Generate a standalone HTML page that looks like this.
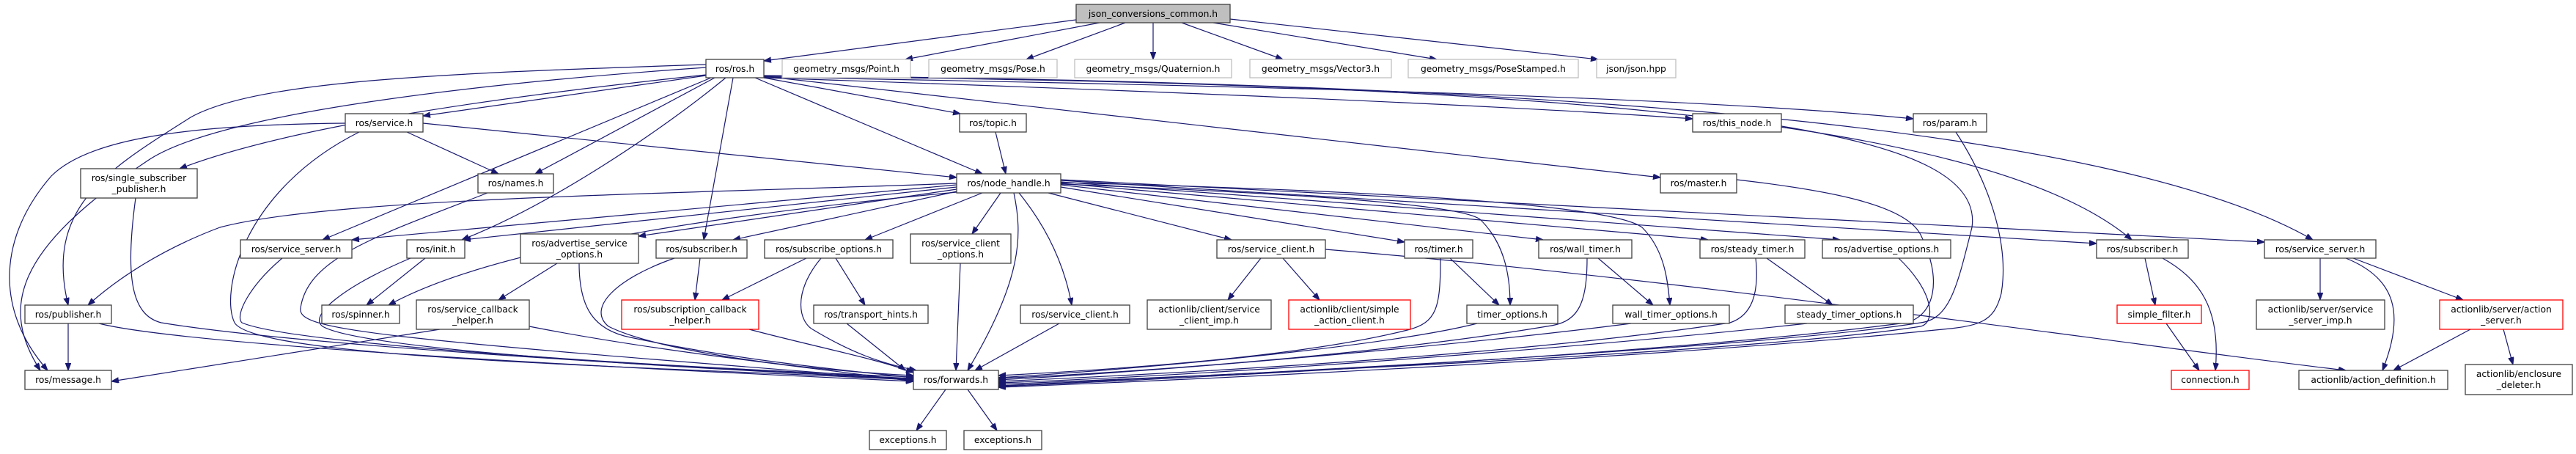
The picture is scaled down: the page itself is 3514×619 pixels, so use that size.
<!DOCTYPE html>
<html><head><meta charset="utf-8">
<style>
html,body{margin:0;padding:0;background:#fff;}
svg{display:block;}
text{font-family:"DejaVu Sans","Liberation Sans",sans-serif;font-size:12.3px;fill:#000;text-anchor:middle;}
</style></head>
<body>
<svg width="3514" height="619" viewBox="0 0 3514 619" xmlns="http://www.w3.org/2000/svg">
<defs>
<marker id="ah" markerUnits="userSpaceOnUse" markerWidth="11" markerHeight="8" refX="10" refY="3.75" orient="auto">
<path d="M0,0 L10,3.75 L0,7.5 z" fill="#191970" stroke="#191970"/>
</marker>
</defs>
<g fill="none" stroke="#191970" stroke-width="1.2" marker-end="url(#ah)">
<path d="M1468,27 L1042,83"/>
<path d="M1500,31 L1235,81"/>
<path d="M1535,31 L1400,81"/>
<path d="M1573,31 L1573,81"/>
<path d="M1612,31 L1750,81"/>
<path d="M1655,31 L1960,81"/>
<path d="M1678,26 L2180,81"/>
<path d="M963,103 L577,158"/>
<path d="M963,102 C700,130 400,170 245,230"/>
<path d="M975,106 L730,237"/>
<path d="M1030,106 L1340,237"/>
<path d="M990,106 C900,180 750,280 630,327"/>
<path d="M970,106 L440,327"/>
<path d="M1000,106 L960,327"/>
<path d="M1042,106 L1310,155"/>
<path d="M1042,106 C1400,118 2000,140 2309,162"/>
<path d="M1042,105 C1600,115 2300,130 2610,162"/>
<path d="M1042,104 L2265,242"/>
<path d="M1042,104 C2000,112 2700,150 2908,327"/>
<path d="M1042,103 C2200,112 2900,180 3155,327"/>
<path d="M963,88 C600,100 350,110 260,160 C150,230 60,280 93,416"/>
<path d="M963,92 C700,110 300,150 200,220 C20,340 0,420 55,505"/>
<path d="M471,168 C250,170 120,190 70,240 C0,320 -10,420 65,505"/>
<path d="M555,180 L680,237"/>
<path d="M577,168 L1305,242"/>
<path d="M490,180 C330,260 300,400 320,440 C350,490 900,500 1246,518"/>
<path d="M185,270 C170,380 180,430 220,440 C400,470 900,500 1246,516"/>
<path d="M665,263 C520,320 420,350 410,420 C405,450 500,460 1246,518"/>
<path d="M1358,180 L1372,237"/>
<path d="M1383,263 C1395,320 1395,380 1320,505"/>
<path d="M1365,263 L1326,319"/>
<path d="M1390,263 C1420,300 1450,350 1462,416"/>
<path d="M1430,263 L1680,327"/>
<path d="M1305,258 L871,322"/>
<path d="M1305,261 L1000,327"/>
<path d="M1340,263 L1180,327"/>
<path d="M1305,255 L632,327"/>
<path d="M1305,252 L480,327"/>
<path d="M1305,250 C900,265 450,270 300,310 C220,340 160,380 120,416"/>
<path d="M1305,262 C900,300 650,350 530,416"/>
<path d="M1447,255 L1916,330"/>
<path d="M1447,252 L2105,327"/>
<path d="M1447,250 L2330,327"/>
<path d="M1447,248 L2510,327"/>
<path d="M1447,246 L2860,332"/>
<path d="M1447,245 L3089,330"/>
<path d="M1447,251 C1800,265 2000,280 2020,300 C2050,330 2060,370 2060,416"/>
<path d="M1447,249 C1900,260 2200,280 2240,310 C2270,340 2275,380 2278,416"/>
<path d="M760,359 L680,409"/>
<path d="M790,359 C790,420 810,450 860,460 C1000,490 1150,505 1246,515"/>
<path d="M600,449 L152,520"/>
<path d="M722,445 C900,480 1100,500 1246,520"/>
<path d="M955,352 L948,409"/>
<path d="M920,352 C840,380 800,420 830,445 C900,480 1100,505 1246,512"/>
<path d="M1100,352 L985,409"/>
<path d="M1140,352 L1180,416"/>
<path d="M1120,352 C1080,400 1090,440 1110,450 C1160,480 1200,495 1250,505"/>
<path d="M1155,441 L1235,505"/>
<path d="M1310,359 L1304,505"/>
<path d="M1445,441 L1330,505"/>
<path d="M1022,449 C1100,470 1200,490 1246,508"/>
<path d="M1720,352 L1675,409"/>
<path d="M1750,352 L1800,409"/>
<path d="M1808,340 C2300,380 2900,470 3200,505"/>
<path d="M1978,352 L2045,416"/>
<path d="M1965,352 C1965,420 1960,440 1920,450 C1800,480 1600,500 1362,512"/>
<path d="M2015,441 C1900,470 1600,500 1362,515"/>
<path d="M2180,352 L2255,416"/>
<path d="M2165,352 C2165,420 2150,440 2110,445 C1900,480 1600,505 1362,516"/>
<path d="M2225,441 C2000,470 1600,505 1362,518"/>
<path d="M2410,352 L2500,416"/>
<path d="M2395,352 C2400,400 2390,430 2360,440 C2100,480 1700,505 1362,520"/>
<path d="M2465,441 C2200,470 1700,510 1362,522"/>
<path d="M2590,352 C2640,400 2640,440 2620,445 C2400,480 1700,510 1362,524"/>
<path d="M2430,172 C2600,200 2700,240 2690,310 C2670,390 2660,435 2620,440 C2400,475 1700,510 1362,526"/>
<path d="M2369,245 C2500,260 2600,280 2620,320 C2650,380 2640,430 2600,440 C2300,480 1700,512 1362,527"/>
<path d="M2668,180 C2720,260 2740,340 2730,400 C2720,440 2700,445 2640,450 C2300,485 1700,515 1362,528"/>
<path d="M2926,352 L2940,416"/>
<path d="M2950,352 C3000,380 3030,420 3022,505"/>
<path d="M2955,441 L3000,505"/>
<path d="M3165,352 L3165,409"/>
<path d="M3200,352 C3270,380 3280,430 3250,505"/>
<path d="M3210,352 L3360,409"/>
<path d="M3370,449 L3265,505"/>
<path d="M3415,449 L3428,497"/>
<path d="M580,352 L500,416"/>
<path d="M560,352 C470,390 420,430 440,445 C500,480 1000,505 1246,517"/>
<path d="M385,352 C340,390 320,430 330,440 C400,470 900,500 1246,514"/>
<path d="M93,441 L93,505"/>
<path d="M135,441 C250,470 800,500 1246,520"/>
<path d="M1290,531 L1250,587"/>
<path d="M1320,531 L1360,587"/>
</g>
<g stroke-width="1.3">
<rect x="1468" y="6" width="210" height="25" fill="#bfbfbf" stroke="#404040"/><text x="1573" y="23">json_conversions_common.h</text>
<rect x="963" y="81" width="79" height="25" fill="#fff" stroke="#404040"/><text x="1002.5" y="98">ros/ros.h</text>
<rect x="1067" y="81" width="175" height="25" fill="#fff" stroke="#bfbfbf"/><text x="1154.5" y="98">geometry_msgs/Point.h</text>
<rect x="1267" y="81" width="175" height="25" fill="#fff" stroke="#bfbfbf"/><text x="1354.5" y="98">geometry_msgs/Pose.h</text>
<rect x="1466" y="81" width="214" height="25" fill="#fff" stroke="#bfbfbf"/><text x="1573" y="98">geometry_msgs/Quaternion.h</text>
<rect x="1705" y="81" width="193" height="25" fill="#fff" stroke="#bfbfbf"/><text x="1801.5" y="98">geometry_msgs/Vector3.h</text>
<rect x="1921" y="81" width="232" height="25" fill="#fff" stroke="#bfbfbf"/><text x="2037" y="98">geometry_msgs/PoseStamped.h</text>
<rect x="2178" y="81" width="108" height="25" fill="#fff" stroke="#bfbfbf"/><text x="2232" y="98">json/json.hpp</text>
<rect x="471" y="155" width="106" height="25" fill="#fff" stroke="#404040"/><text x="524" y="172">ros/service.h</text>
<rect x="1309" y="155" width="91" height="25" fill="#fff" stroke="#404040"/><text x="1354.5" y="172">ros/topic.h</text>
<rect x="2309" y="155" width="121" height="25" fill="#fff" stroke="#404040"/><text x="2369.5" y="172">ros/this_node.h</text>
<rect x="2610" y="155" width="100" height="25" fill="#fff" stroke="#404040"/><text x="2660" y="172">ros/param.h</text>
<rect x="110" y="230" width="159" height="40" fill="#fff" stroke="#404040"/><text x="189.5" y="247">ros/single_subscriber</text><text x="189.5" y="262">_publisher.h</text>
<rect x="652" y="237" width="103" height="26" fill="#fff" stroke="#404040"/><text x="703.5" y="254">ros/names.h</text>
<rect x="1305" y="237" width="142" height="26" fill="#fff" stroke="#404040"/><text x="1376" y="254">ros/node_handle.h</text>
<rect x="2265" y="237" width="104" height="26" fill="#fff" stroke="#404040"/><text x="2317" y="254">ros/master.h</text>
<rect x="328" y="327" width="152" height="25" fill="#fff" stroke="#404040"/><text x="404" y="344">ros/service_server.h</text>
<rect x="555" y="327" width="79" height="25" fill="#fff" stroke="#404040"/><text x="594.5" y="344">ros/init.h</text>
<rect x="710" y="319" width="161" height="40" fill="#fff" stroke="#404040"/><text x="790.5" y="336">ros/advertise_service</text><text x="790.5" y="351">_options.h</text>
<rect x="895" y="327" width="124" height="25" fill="#fff" stroke="#404040"/><text x="957" y="344">ros/subscriber.h</text>
<rect x="1043" y="327" width="175" height="25" fill="#fff" stroke="#404040"/><text x="1130.5" y="344">ros/subscribe_options.h</text>
<rect x="1242" y="319" width="137" height="40" fill="#fff" stroke="#404040"/><text x="1310.5" y="336">ros/service_client</text><text x="1310.5" y="351">_options.h</text>
<rect x="1660" y="327" width="148" height="25" fill="#fff" stroke="#404040"/><text x="1734" y="344">ros/service_client.h</text>
<rect x="1916" y="327" width="93" height="25" fill="#fff" stroke="#404040"/><text x="1962.5" y="344">ros/timer.h</text>
<rect x="2099" y="327" width="127" height="25" fill="#fff" stroke="#404040"/><text x="2162.5" y="344">ros/wall_timer.h</text>
<rect x="2319" y="327" width="143" height="25" fill="#fff" stroke="#404040"/><text x="2390.5" y="344">ros/steady_timer.h</text>
<rect x="2486" y="327" width="175" height="25" fill="#fff" stroke="#404040"/><text x="2573.5" y="344">ros/advertise_options.h</text>
<rect x="2860" y="327" width="125" height="25" fill="#fff" stroke="#404040"/><text x="2922.5" y="344">ros/subscriber.h</text>
<rect x="3089" y="327" width="152" height="25" fill="#fff" stroke="#404040"/><text x="3165" y="344">ros/service_server.h</text>
<rect x="34" y="416" width="118" height="25" fill="#fff" stroke="#404040"/><text x="93" y="433">ros/publisher.h</text>
<rect x="439" y="416" width="106" height="25" fill="#fff" stroke="#404040"/><text x="492" y="433">ros/spinner.h</text>
<rect x="568" y="409" width="154" height="40" fill="#fff" stroke="#404040"/><text x="645" y="426">ros/service_callback</text><text x="645" y="441">_helper.h</text>
<rect x="848" y="409" width="187" height="40" fill="#fff" stroke="#ff0000"/><text x="941.5" y="426">ros/subscription_callback</text><text x="941.5" y="441">_helper.h</text>
<rect x="1110" y="416" width="156" height="25" fill="#fff" stroke="#404040"/><text x="1188" y="433">ros/transport_hints.h</text>
<rect x="1392" y="416" width="149" height="25" fill="#fff" stroke="#404040"/><text x="1466.5" y="433">ros/service_client.h</text>
<rect x="1565" y="409" width="169" height="40" fill="#fff" stroke="#404040"/><text x="1649.5" y="426">actionlib/client/service</text><text x="1649.5" y="441">_client_imp.h</text>
<rect x="1758" y="409" width="166" height="40" fill="#fff" stroke="#ff0000"/><text x="1841" y="426">actionlib/client/simple</text><text x="1841" y="441">_action_client.h</text>
<rect x="2001" y="416" width="124" height="25" fill="#fff" stroke="#404040"/><text x="2063" y="433">timer_options.h</text>
<rect x="2200" y="416" width="159" height="25" fill="#fff" stroke="#404040"/><text x="2279.5" y="433">wall_timer_options.h</text>
<rect x="2435" y="416" width="175" height="25" fill="#fff" stroke="#404040"/><text x="2522.5" y="433">steady_timer_options.h</text>
<rect x="2888" y="416" width="115" height="25" fill="#fff" stroke="#ff0000"/><text x="2945.5" y="433">simple_filter.h</text>
<rect x="3078" y="409" width="175" height="40" fill="#fff" stroke="#404040"/><text x="3165.5" y="426">actionlib/server/service</text><text x="3165.5" y="441">_server_imp.h</text>
<rect x="3328" y="409" width="168" height="40" fill="#fff" stroke="#ff0000"/><text x="3412" y="426">actionlib/server/action</text><text x="3412" y="441">_server.h</text>
<rect x="34" y="505" width="118" height="26" fill="#fff" stroke="#404040"/><text x="93" y="522">ros/message.h</text>
<rect x="1246" y="505" width="116" height="26" fill="#fff" stroke="#404040"/><text x="1304" y="522">ros/forwards.h</text>
<rect x="2962" y="505" width="106" height="26" fill="#fff" stroke="#ff0000"/><text x="3015" y="522">connection.h</text>
<rect x="3136" y="505" width="203" height="26" fill="#fff" stroke="#404040"/><text x="3237.5" y="522">actionlib/action_definition.h</text>
<rect x="3363" y="497" width="146" height="41" fill="#fff" stroke="#404040"/><text x="3436" y="514">actionlib/enclosure</text><text x="3436" y="529">_deleter.h</text>
<rect x="1186" y="587" width="105" height="26" fill="#fff" stroke="#404040"/><text x="1238.5" y="604">exceptions.h</text>
<rect x="1315" y="587" width="106" height="26" fill="#fff" stroke="#404040"/><text x="1368" y="604">exceptions.h</text>
</g>
</svg>
</body></html>
